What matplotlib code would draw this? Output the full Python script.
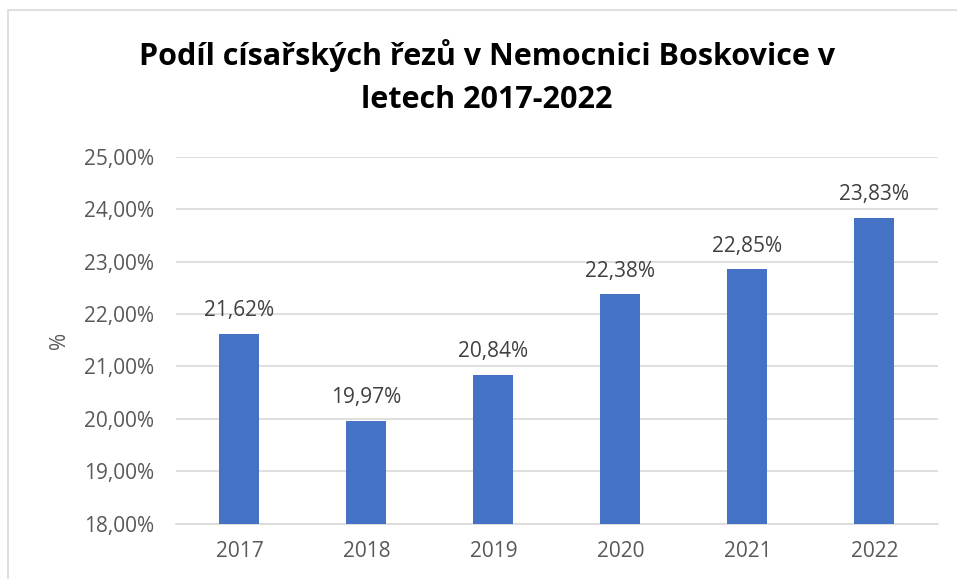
import matplotlib.pyplot as plt
from matplotlib.patches import Rectangle
from matplotlib.ticker import FuncFormatter

plt.rcParams['font.family'] = ['Open Sans', 'DejaVu Sans']

# data
years = ['2017', '2018', '2019', '2020', '2021', '2022']
share = [21.62, 19.97, 20.84, 22.38, 22.85, 23.83]
labels = ['21,62%', '19,97%', '20,84%', '22,38%', '22,85%', '23,83%']
yticks = [18, 19, 20, 21, 22, 23, 24, 25]

fig = plt.figure(figsize=(9.57, 5.79), dpi=100)
ax = fig.add_axes([0.1839, 0.095, 0.7962, 0.6347])

x = range(len(years))
ax.bar(x, share, width=0.315, color='#4472C4', zorder=3)
for xi, v, lab in zip(x, share, labels):
    ax.annotate(lab, (xi, v), xytext=(0, 9), textcoords='offset points',
                ha='center', va='bottom', fontsize=15, color='#404040')

ax.set_xlim(-0.5, len(years) - 0.5)
ax.set_ylim(18, 25)
ax.set_yticks(yticks)
ax.yaxis.set_major_formatter(FuncFormatter(lambda v, p: f'{v:.2f}%'.replace('.', ',')))
ax.set_xticks(list(x))
ax.set_xticklabels(years)
ax.tick_params(axis='both', length=0, labelsize=15, labelcolor='#595959')
ax.tick_params(axis='x', pad=12)
ax.tick_params(axis='y', pad=16)
ax.grid(axis='y', color='#D9D9D9', linewidth=1.2, zorder=0)
for s in ['top', 'right', 'left']:
    ax.spines[s].set_visible(False)
ax.spines['bottom'].set_color('#D9D9D9')
ax.spines['bottom'].set_linewidth(1.2)
ax.set_ylabel('%', fontsize=15, color='#595959', labelpad=10)

# title, two lines as in the original
fig.text(0.509, 1 - 65 / 579, 'Podíl císařských řezů v Nemocnici Boskovice v',
         ha='center', va='baseline', fontsize=22, fontweight='bold', color='black')
fig.text(0.509, 1 - 108 / 579, 'letech 2017-2022',
         ha='center', va='baseline', fontsize=22, fontweight='bold', color='black')

# chart frame (runs off the right and bottom edge)
fig.patches.append(Rectangle((8 / 957, -0.05), 1.0, 1.05 - 10 / 579,
                             transform=fig.transFigure, fill=False,
                             edgecolor='#D9D9D9', linewidth=1.2))

fig.savefig('out.png', dpi=100)
